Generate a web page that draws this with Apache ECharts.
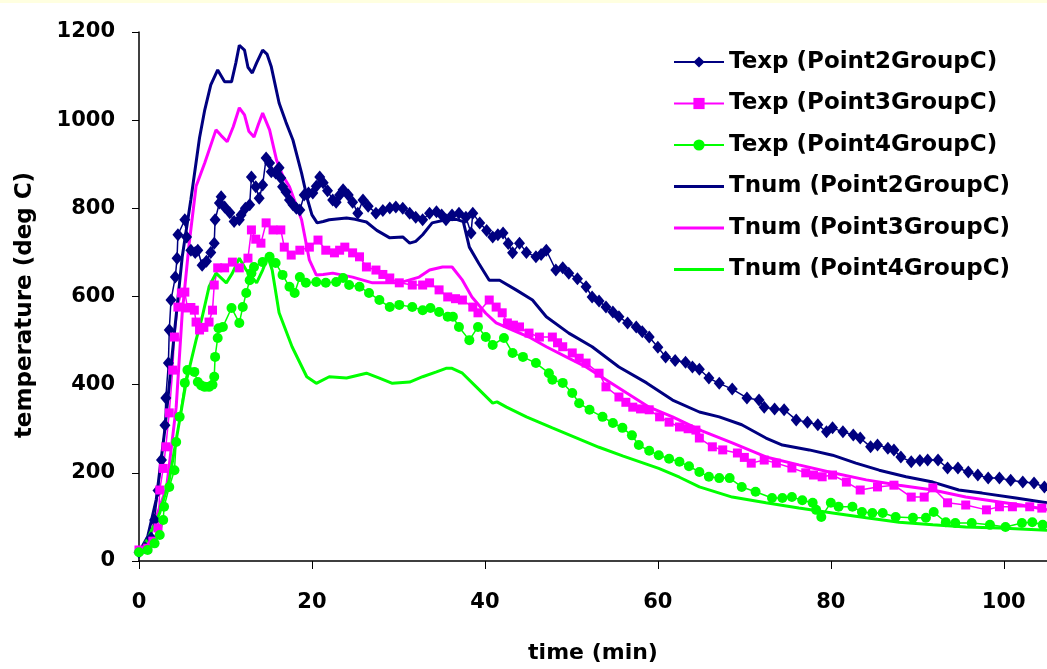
<!DOCTYPE html>
<html>
<head>
<meta charset="utf-8">
<script src="https://cdn.jsdelivr.net/npm/echarts@6/dist/echarts.min.js"></script>
<style>
html, body { margin: 0; padding: 0; background: #fff; }
#chart { width: 1047px; height: 669px; }
</style>
</head>
<body>
<div id="chart"></div>
<script>
// measured curves, time in min / temperature in deg C
var texp2Time = [0, 0.7, 1.4, 1.8, 2.2, 2.6, 3.0, 3.1, 3.4, 3.5, 3.7, 4.2, 4.4, 4.5, 5.3, 5.5, 6.0, 6.5, 6.8, 7.3, 7.8, 8.3, 8.7, 8.8, 9.3, 9.5, 9.9, 10.5, 11.0, 11.6, 11.8, 12.3, 12.8, 13.0, 13.5, 13.9, 14.3, 14.7, 15.1, 15.3, 15.8, 16.2, 16.4, 16.6, 17.0, 17.4, 17.8, 18.2, 18.6, 19.1, 19.6, 20.1, 20.5, 20.9, 21.3, 21.8, 22.4, 22.8, 23.2, 23.6, 24.2, 24.7, 25.3, 25.9, 26.5, 27.4, 28.2, 29.0, 29.7, 30.5, 31.3, 32.0, 32.8, 33.6, 34.4, 35.0, 35.5, 36.2, 37.0, 37.8, 38.4, 38.6, 39.4, 40.2, 40.9, 41.5, 42.1, 42.7, 43.2, 44.0, 44.8, 45.9, 46.5, 47.1, 48.2, 49.0, 49.7, 50.7, 51.7, 52.4, 53.2, 54.0, 54.8, 55.5, 56.5, 57.5, 58.2, 59.0, 60.0, 60.9, 62.0, 63.2, 64.0, 64.8, 65.9, 67.1, 68.6, 70.3, 71.7, 72.3, 73.5, 74.6, 76.0, 77.3, 78.5, 79.5, 80.2, 81.4, 82.6, 83.4, 84.6, 85.4, 86.6, 87.3, 88.1, 89.3, 90.3, 91.2, 92.4, 93.5, 94.7, 95.9, 97.0, 98.2, 99.5, 100.8, 102.2, 103.5, 104.7];
var texp2Temp = [20, 30, 52, 93, 160, 229, 308, 370, 449, 524, 592, 644, 687, 740, 774, 735, 705, 700, 705, 671, 680, 700, 721, 774, 812, 826, 803, 790, 770, 774, 785, 800, 808, 871, 849, 823, 853, 914, 903, 883, 880, 892, 869, 849, 837, 819, 808, 800, 796, 830, 835, 835, 850, 871, 858, 840, 819, 814, 830, 842, 830, 814, 789, 819, 805, 789, 795, 801, 803, 800, 789, 780, 774, 789, 792, 785, 774, 785, 789, 780, 744, 789, 767, 750, 735, 740, 744, 720, 699, 721, 700, 690, 695, 705, 660, 665, 653, 640, 622, 599, 590, 576, 565, 554, 540, 531, 520, 508, 485, 463, 455, 451, 440, 435, 415, 403, 390, 370, 365, 349, 345, 343, 320, 315, 309, 293, 302, 293, 286, 279, 259, 263, 256, 252, 236, 225, 228, 229, 229, 211, 211, 202, 195, 188, 188, 183, 179, 177, 168];

var texp3Time = [0, 1.0, 1.6, 2.2, 2.4, 2.8, 3.1, 3.5, 3.9, 4.1, 4.5, 4.9, 5.3, 5.6, 6.0, 6.4, 6.6, 7.0, 7.5, 8.1, 8.5, 8.7, 9.1, 9.9, 10.8, 11.6, 12.6, 13.0, 13.5, 14.1, 14.7, 15.5, 16.4, 16.8, 17.6, 18.6, 19.7, 20.7, 21.6, 22.6, 23.2, 23.8, 24.7, 25.5, 26.3, 27.4, 28.2, 29.0, 30.1, 31.6, 32.8, 33.6, 34.7, 35.7, 36.6, 37.4, 38.6, 39.2, 40.5, 41.3, 42.0, 42.6, 43.3, 44.0, 45.1, 46.3, 47.8, 48.4, 49.0, 50.1, 50.9, 51.7, 53.2, 54.0, 55.5, 56.3, 57.1, 58.0, 59.0, 60.2, 61.3, 62.5, 63.5, 64.4, 64.8, 66.3, 67.5, 69.2, 70.0, 70.8, 72.3, 73.7, 75.5, 77.1, 78.0, 79.0, 80.2, 81.8, 83.4, 85.4, 87.3, 89.3, 90.8, 91.8, 93.5, 95.6, 98.0, 99.5, 101.0, 103.0, 104.4];
var texp3Temp = [25, 29, 45, 75, 161, 210, 259, 336, 433, 508, 576, 608, 610, 574, 575, 569, 542, 524, 530, 542, 569, 626, 665, 665, 678, 665, 687, 751, 730, 721, 767, 751, 751, 712, 694, 705, 712, 728, 705, 699, 705, 712, 699, 690, 667, 660, 650, 642, 631, 626, 626, 631, 615, 599, 595, 592, 576, 563, 592, 576, 563, 540, 535, 531, 517, 508, 508, 495, 486, 472, 460, 449, 426, 395, 372, 360, 349, 345, 343, 327, 315, 304, 300, 297, 279, 259, 252, 245, 235, 222, 229, 222, 211, 200, 195, 191, 195, 179, 161, 168, 172, 145, 145, 166, 132, 127, 116, 123, 123, 123, 120];

var texp4Time = [0, 1.0, 1.8, 2.4, 2.8, 2.9, 3.5, 4.1, 4.3, 4.7, 5.3, 5.6, 6.4, 6.8, 7.2, 7.6, 8.1, 8.5, 8.7, 8.8, 9.1, 9.2, 9.7, 10.7, 11.6, 12.0, 12.4, 12.8, 13.0, 13.3, 14.3, 15.1, 15.8, 16.6, 17.4, 18.0, 18.6, 19.3, 20.5, 21.6, 22.8, 23.6, 24.3, 25.5, 26.6, 27.8, 29.0, 30.1, 31.6, 32.8, 33.7, 34.7, 35.7, 36.3, 37.0, 38.2, 39.2, 40.1, 40.9, 42.2, 43.2, 44.4, 45.9, 47.4, 47.8, 49.0, 50.1, 50.9, 52.1, 53.6, 54.8, 55.9, 57.0, 57.8, 59.0, 60.1, 61.3, 62.5, 63.6, 64.8, 65.9, 67.1, 68.3, 69.7, 71.3, 73.2, 74.4, 75.5, 76.7, 77.9, 78.3, 78.9, 80.0, 80.9, 82.5, 83.6, 84.8, 86.0, 87.5, 89.5, 91.0, 91.9, 93.3, 94.4, 96.3, 98.4, 100.2, 102.1, 103.3, 104.5];
var texp4Temp = [20, 25, 40, 59, 93, 123, 168, 206, 270, 327, 404, 433, 429, 406, 398, 395, 395, 400, 418, 463, 506, 528, 531, 574, 540, 576, 608, 637, 653, 667, 678, 690, 676, 649, 622, 608, 644, 631, 633, 631, 633, 642, 626, 622, 608, 592, 576, 581, 576, 569, 574, 565, 554, 554, 531, 501, 531, 508, 490, 506, 472, 463, 449, 426, 411, 404, 381, 358, 343, 327, 313, 302, 285, 263, 250, 240, 232, 225, 215, 202, 191, 188, 188, 168, 157, 143, 143, 145, 138, 132, 116, 100, 132, 123, 123, 111, 109, 109, 100, 98, 98, 111, 88, 86, 86, 82, 77, 86, 88, 82];

// computed curves
var tnum2Time = [0, 1, 2, 3, 4, 5, 6, 7, 7.6, 8.3, 9.1, 9.9, 10.7, 11.2, 11.6, 12.2, 12.6, 13.1, 13.6, 14.3, 14.8, 15.3, 16.2, 17.0, 17.8, 18.8, 19.5, 20.0, 20.6, 21.3, 22.0, 24.0, 25.0, 26.3, 27.5, 29.0, 30.5, 31.3, 32.0, 32.8, 33.9, 35.5, 36.7, 37.5, 38.2, 39.3, 40.5, 41.7, 43.6, 45.5, 47.1, 49.7, 52.4, 55.5, 58.7, 61.7, 64.8, 67.1, 69.7, 72.5, 74.4, 77.5, 80.2, 82.9, 85.6, 88.7, 91.8, 94.8, 97.5, 101.4, 105];
var tnum2Temp = [20, 55, 140, 300, 500, 690, 820, 960, 1023, 1080, 1114, 1087, 1087, 1130, 1170, 1159, 1120, 1107, 1130, 1159, 1150, 1121, 1039, 995, 955, 880, 819, 785, 767, 770, 774, 778, 775, 769, 750, 733, 735, 721, 725, 740, 767, 774, 775, 770, 712, 675, 637, 637, 615, 592, 554, 517, 486, 440, 404, 365, 338, 327, 309, 279, 263, 252, 240, 222, 206, 191, 179, 161, 154, 143, 132];

var tnum3Time = [0, 1, 2, 3.2, 4.3, 5.0, 5.8, 6.6, 7.6, 8.9, 9.5, 10.2, 10.9, 11.6, 12.2, 12.7, 13.3, 13.8, 14.3, 15.1, 15.9, 16.6, 17.4, 18.8, 19.7, 20.5, 21.3, 22.4, 24.7, 27.0, 30.1, 32.4, 33.6, 35.1, 36.2, 37.4, 38.5, 40.1, 41.3, 43.2, 45.1, 47.1, 49.4, 51.7, 54.0, 56.4, 59.0, 61.7, 65.1, 68.6, 72.5, 76.3, 80.2, 84.1, 87.9, 91.8, 95.6, 99.5, 102, 105];
var tnum3Temp = [18, 40, 100, 168, 349, 563, 720, 850, 903, 978, 965, 951, 985, 1028, 1012, 975, 962, 990, 1016, 978, 910, 875, 849, 774, 683, 649, 650, 653, 644, 631, 631, 644, 660, 667, 667, 637, 599, 562, 540, 524, 508, 486, 463, 440, 411, 381, 349, 327, 295, 268, 236, 218, 200, 184, 172, 161, 145, 134, 127, 116];

var tnum4Time = [0, 1, 2.4, 3.5, 4.7, 5.5, 6.6, 7.3, 8.1, 8.9, 10.1, 10.8, 11.6, 12.4, 13.6, 14.3, 14.9, 15.4, 16.2, 17.7, 19.4, 20.5, 22.0, 24.0, 26.3, 27.8, 29.3, 31.3, 32.8, 34.4, 35.5, 36.2, 37.4, 39.0, 40.9, 41.4, 42.5, 44.8, 47.8, 50.5, 53.2, 56.0, 60.1, 62.5, 64.8, 68.6, 72.5, 76.3, 80.2, 84.1, 87.9, 91.8, 95.6, 99.5, 105];
var tnum4Temp = [18, 50, 109, 184, 320, 411, 501, 553, 622, 653, 631, 653, 687, 660, 631, 660, 690, 660, 563, 486, 418, 403, 418, 415, 426, 415, 403, 406, 418, 429, 437, 437, 426, 395, 358, 361, 349, 327, 302, 280, 258, 238, 210, 190, 168, 145, 132, 120, 109, 98, 88, 82, 77, 75, 70];

var seriesNames = ['Texp (Point2GroupC)', 'Texp (Point3GroupC)', 'Texp (Point4GroupC)',
                   'Tnum (Point2GroupC)', 'Tnum (Point3GroupC)', 'Tnum (Point4GroupC)'];
var xTicks = [0, 20, 40, 60, 80, 100];

function pairs(xs, ys){
	var out = [];
	for (var i = 0; i < xs.length; i++) out.push([xs[i], ys[i]]);
	return out;
}

var FONT = 'DejaVu Sans';
var NAVY = '#000080', PINK = '#FF00FF', LIME = '#00FF00';
var LINE_ICON = 'path://M0,0H50V3H0Z';   // plain line for the computed curves

function expSeries(name, color, symbol, size, data){
	return {
		name: name, type: 'line', data: data,
		symbol: symbol, symbolSize: size, showSymbol: true,
		itemStyle: {color: color},
		lineStyle: {color: color, width: 1.5},
		emphasis: {disabled: true}
	};
}
function numSeries(name, color, data){
	return {
		name: name, type: 'line', data: data,
		symbol: 'none', showSymbol: false,
		itemStyle: {color: color},
		lineStyle: {color: color, width: 3},
		emphasis: {disabled: true}
	};
}

var legendData = [];
for (var k = 0; k < seriesNames.length; k++) {
	legendData.push(k < 3 ? {name: seriesNames[k]} : {name: seriesNames[k], icon: LINE_ICON});
}

var chart = echarts.init(document.getElementById('chart'), null, {renderer: 'canvas'});
chart.setOption({
	animation: false,
	backgroundColor: '#ffffff',
	textStyle: {fontFamily: FONT},
	graphic: [{
		type: 'rect', left: 0, top: 0, z: -10,
		shape: {width: 1047, height: 3},
		style: {fill: '#FFFFE0'}
	}],
	grid: {left: 139, right: 0, top: 32, bottom: 108},
	legend: {
		orient: 'vertical', left: 668, top: 43,
		itemWidth: 50, itemHeight: 14, itemGap: 13.5,
		data: legendData,
		selectedMode: false,
		textStyle: {fontFamily: FONT, fontWeight: 'bold', fontSize: 23, color: '#000', lineHeight: 28}
	},
	xAxis: {
		type: 'value', min: 0, max: 105, interval: 20,
		name: 'time (min)', nameLocation: 'middle', nameGap: 81,
		nameTextStyle: {fontFamily: FONT, fontWeight: 'bold', fontSize: 22, color: '#000'},
		axisLine: {show: true, onZero: false, lineStyle: {color: '#000', width: 1.5}},
		axisTick: {show: true, inside: false, length: 8, lineStyle: {color: '#000'}},
		axisLabel: {
			margin: 31, fontFamily: FONT, fontWeight: 'bold', fontSize: 21, color: '#000',
			showMaxLabel: false,
			formatter: function(v){ return xTicks.indexOf(v) >= 0 ? String(v) : ''; }
		},
		splitLine: {show: false}
	},
	yAxis: {
		type: 'value', min: 0, max: 1200, interval: 200,
		name: 'temperature (deg C)', nameLocation: 'middle', nameGap: 102, nameRotate: 90,
		nameTextStyle: {fontFamily: FONT, fontWeight: 'bold', fontSize: 23, color: '#000', padding: [0, 17, 0, 0]},
		axisLine: {show: true, lineStyle: {color: '#000', width: 1.5}},
		axisTick: {show: true, inside: false, length: 7, lineStyle: {color: '#000'}},
		axisLabel: {
			margin: 24, fontFamily: FONT, fontWeight: 'bold', fontSize: 21, color: '#000',
			formatter: function(v){ return String(v); }
		},
		splitLine: {show: false}
	},
	series: [
		expSeries(seriesNames[0], NAVY, 'diamond', [11, 13], pairs(texp2Time, texp2Temp)),
		expSeries(seriesNames[1], PINK, 'rect', 9, pairs(texp3Time, texp3Temp)),
		expSeries(seriesNames[2], LIME, 'circle', 10, pairs(texp4Time, texp4Temp)),
		numSeries(seriesNames[3], NAVY, pairs(tnum2Time, tnum2Temp)),
		numSeries(seriesNames[4], PINK, pairs(tnum3Time, tnum3Temp)),
		numSeries(seriesNames[5], LIME, pairs(tnum4Time, tnum4Temp))
	]
});
</script>
</body>
</html>
